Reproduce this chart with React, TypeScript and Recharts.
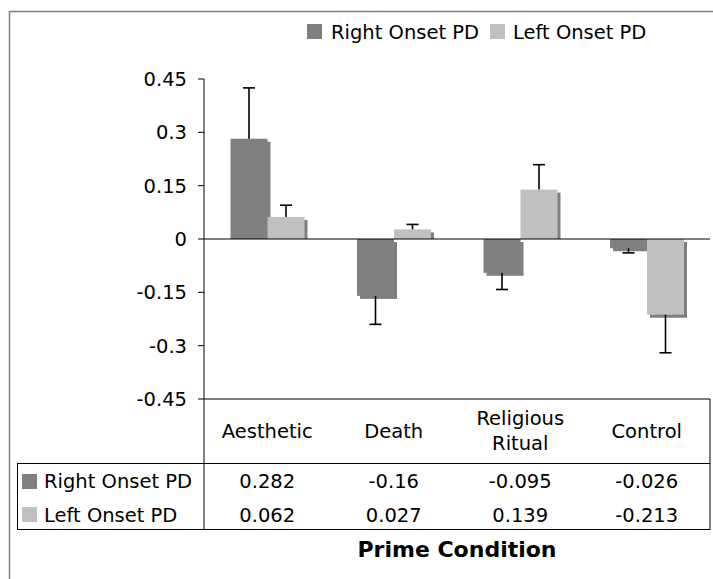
import React from 'react';
import { BarChart, Bar, XAxis, YAxis, ReferenceLine } from 'recharts';

const categories = ['Aesthetic', 'Death', 'Religious Ritual', 'Control'];
const rightOnset = [0.282, -0.16, -0.095, -0.026];
const leftOnset = [0.062, 0.027, 0.139, -0.213];
const rightErr = [0.143, 0.08, 0.047, 0.013];
const leftErr = [0.033, 0.014, 0.07, 0.107];
const yTicks = [0.45, 0.3, 0.15, 0, -0.15, -0.3, -0.45];
const seriesNames = ['Right Onset PD', 'Left Onset PD'];
const seriesColors = ['#808080', '#C0C0C0'];
const xTitle = 'Prime Condition';

const data = categories.map((c, i) => ({
  category: c,
  right: rightOnset[i],
  left: leftOnset[i],
  rightErr: rightErr[i],
  leftErr: leftErr[i],
}));

const FONT = '"DejaVu Sans", Verdana, sans-serif';
const FS = 19.5;

const makeShape = (valKey: string, errKey: string) => (props: any) => {
  const { x, y, width, height, fill, payload } = props;
  const v = payload[valKey];
  const e = payload[errKey];
  const top = Math.min(y, y + height);
  const h = Math.abs(height);
  const ppu = v !== 0 ? h / Math.abs(v) : 0;
  const pos = v >= 0;
  const end = pos ? top : top + h;
  const errEnd = pos ? end - e * ppu : end + e * ppu;
  const cx = x + width / 2;
  return (
    <g>
      <rect x={x + 3} y={top + 3} width={width} height={pos ? Math.max(h - 3, 0) : h} fill="#808080" />
      <rect x={x} y={top} width={width} height={h} fill={fill} />
      <line x1={cx} x2={cx} y1={end} y2={errEnd} stroke="#000" strokeWidth={1.6} />
      <line x1={cx - 6} x2={cx + 6} y1={errEnd} y2={errEnd} stroke="#000" strokeWidth={1.6} />
    </g>
  );
};

const CategoryTick = (props: any) => {
  const { x, payload } = props;
  const i = payload.index;
  const label: string = payload.value;
  const words = label.split(' ');
  return (
    <g fontFamily={FONT} fontSize={FS} fill="#000">
      {words.length > 1 ? (
        <>
          <text x={x} y={425} textAnchor="middle" fill="#000">{words[0]}</text>
          <text x={x} y={450} textAnchor="middle" fill="#000">{words.slice(1).join(' ')}</text>
        </>
      ) : (
        <text x={x} y={438} textAnchor="middle" fill="#000">{label}</text>
      )}
      <text x={x} y={488} textAnchor="middle" fill="#000">{String(rightOnset[i])}</text>
      <text x={x} y={522} textAnchor="middle" fill="#000">{String(leftOnset[i])}</text>
    </g>
  );
};

export default function App() {
  return (
    <div style={{ position: 'absolute', left: 0, top: 0, width: 713, height: 579, background: '#fff' }}>
      <BarChart
        width={713}
        height={579}
        data={data}
        margin={{ top: 79, right: 3, bottom: 150, left: 144 }}
        barCategoryGap={26.5}
        barGap={0}
      >
        <YAxis
          domain={[-0.45, 0.45]}
          ticks={yTicks}
          width={60}
          interval={0}
          axisLine={{ stroke: '#000' }}
          tickLine={{ stroke: '#000' }}
          tickSize={6}
          tickMargin={11}
          tick={{ fill: '#000', fontFamily: FONT, fontSize: FS }}
        />
        <XAxis
          dataKey="category"
          height={30}
          interval={0}
          axisLine={{ stroke: '#000' }}
          tickLine={false}
          tick={<CategoryTick />}
        />
        <Bar dataKey="right" name={seriesNames[0]} fill={seriesColors[0]} isAnimationActive={false} shape={makeShape('right', 'rightErr')} />
        <Bar dataKey="left" name={seriesNames[1]} fill={seriesColors[1]} isAnimationActive={false} shape={makeShape('left', 'leftErr')} />
        <ReferenceLine y={0} stroke="#000" strokeWidth={1} />
      </BarChart>
      <svg
        width={713}
        height={579}
        style={{ position: 'absolute', left: 0, top: 0, pointerEvents: 'none' }}
        fontFamily={FONT}
      >
        {/* outer frame */}
        <line x1={9.5} x2={9.5} y1={11} y2={579} stroke="#808080" strokeWidth={1.5} />
        <line x1={9} x2={713} y1={11.5} y2={11.5} stroke="#808080" strokeWidth={1.5} />
        {/* legend */}
        <rect x={307} y={24} width={15} height={15} fill={seriesColors[0]} />
        <text x={331} y={39} fontSize={FS} fill="#000">{seriesNames[0]}</text>
        <rect x={490} y={24} width={15} height={15} fill={seriesColors[1]} />
        <text x={513} y={39} fontSize={FS} fill="#000">{seriesNames[1]}</text>
        {/* data table frame */}
        <line x1={204} x2={204} y1={399} y2={530} stroke="#000" strokeWidth={1} />
        <line x1={710} x2={710} y1={399} y2={530} stroke="#000" strokeWidth={1} />
        <line x1={17.5} x2={710} y1={463.5} y2={463.5} stroke="#000" strokeWidth={1} />
        <line x1={17.5} x2={710} y1={529.5} y2={529.5} stroke="#000" strokeWidth={1} />
        <line x1={17.5} x2={17.5} y1={463} y2={530} stroke="#000" strokeWidth={1} />
        <rect x={22} y={474} width={15} height={15} fill={seriesColors[0]} />
        <text x={44} y={488} fontSize={FS} fill="#000">{seriesNames[0]}</text>
        <rect x={22} y={507} width={15} height={15} fill={seriesColors[1]} />
        <text x={44} y={522} fontSize={FS} fill="#000">{seriesNames[1]}</text>
        {/* axis title */}
        <text x={457} y={557} fontSize={22} fontWeight="bold" textAnchor="middle" fill="#000">{xTitle}</text>
      </svg>
    </div>
  );
}
